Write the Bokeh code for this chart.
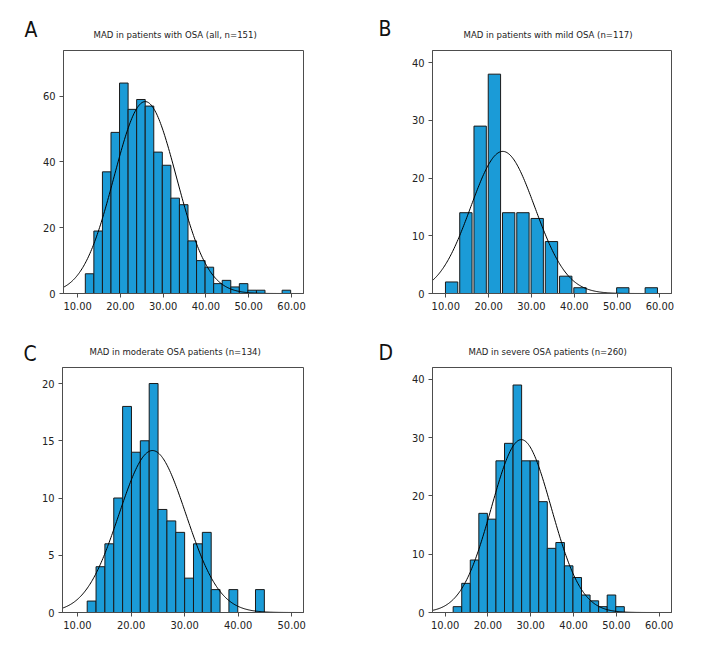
import numpy as np
from bokeh.plotting import figure
from bokeh.layouts import row, column
from bokeh.models import FixedTicker, PrintfTickFormatter, Range1d
from bokeh.embed import file_html
from bokeh.resources import INLINE

# ---------------- data ----------------
letters = ["A", "B", "C", "D"]
titles = [
    "MAD in patients with OSA (all, n=151)",
    "MAD in patients with mild OSA (n=117)",
    "MAD in moderate OSA patients (n=134)",
    "MAD in severe OSA patients (n=260)",
]

# A: all
a_bin_start, a_bin_width = 11.8, 2.0
a_counts = [6, 19, 37, 49, 64, 56, 59, 57, 43, 39, 29, 27, 16, 10, 8, 3, 4, 2, 3, 1, 1, 0, 0, 1]
a_mean, a_sd = 25.8, 7.3

# B: mild
b_bin_start, b_bin_width = 9.7, 3.33
b_counts = [2, 14, 29, 38, 14, 14, 13, 9, 3, 1, 0, 0, 1, 0, 1]
b_mean, b_sd = 23.3, 7.5

# C: moderate
c_bin_start, c_bin_width = 11.81, 1.654
c_counts = [1, 4, 6, 10, 18, 14, 15, 20, 9, 8, 7, 3, 6, 7, 2, 0, 2, 0, 0, 2]
c_mean, c_sd = 24.0, 6.25

# D: severe
d_bin_start, d_bin_width = 11.87, 2.0
d_counts = [1, 5, 9, 17, 16, 26, 29, 39, 26, 26, 19, 11, 12, 8, 6, 3, 2, 1, 3, 1]
d_mean, d_sd = 27.8, 7.0

x_ticks_ab = [10, 20, 30, 40, 50, 60]
x_ticks_c = [10, 20, 30, 40, 50]
y_ticks = [[0, 20, 40, 60], [0, 10, 20, 30, 40], [0, 5, 10, 15, 20], [0, 10, 20, 30, 40]]

# ---------------- style / layout ----------------
FONT = "DejaVu Sans Condensed"
BAR_FILL = "#1b9bd7"
EDGE = "#1a1a1a"
FRAME = "#4d4d4d"
LETTER_W = 38

panels = [
    dict(counts=a_counts, start=a_bin_start, width=a_bin_width, mean=a_mean, sd=a_sd,
         xr=(6.7, 62.8), yr=(0, 73.9), xt=x_ticks_ab, gap=0.0,
         w=322, h=330, bl=25, br=57, bt=50, bb=37, standoff=21, toff=30,
         letter_off=24, letter_standoff=17),
    dict(counts=b_counts, start=b_bin_start, width=b_bin_width, mean=b_mean, sd=b_sd,
         xr=(6.9, 62.7), yr=(0, 42.1), xt=x_ticks_ab, gap=0.45,
         w=314, h=330, bl=34, br=41, bt=50, bb=37, standoff=21, toff=31,
         letter_off=18, letter_standoff=19),
    dict(counts=c_counts, start=c_bin_start, width=c_bin_width, mean=c_mean, sd=c_sd,
         xr=(7.2, 52.2), yr=(0, 21.4), xt=x_ticks_c, gap=0.0,
         w=322, h=322, bl=24, br=57, bt=37, bb=40, standoff=22, toff=27,
         letter_off=23, letter_standoff=3),
    dict(counts=d_counts, start=d_bin_start, width=d_bin_width, mean=d_mean, sd=d_sd,
         xr=(7.04, 62.9), yr=(0, 42.0), xt=x_ticks_ab, gap=0.0,
         w=314, h=322, bl=34, br=41, bt=37, bb=40, standoff=22, toff=36,
         letter_off=18, letter_standoff=5),
]

cells = []
for i, pd_ in enumerate(panels):
    # narrow strip at the left of each panel that carries the panel letter as its title
    lf = figure(width=LETTER_W, height=pd_["h"], title=letters[i], output_backend="svg",
                toolbar_location=None, x_axis_type=None, y_axis_type=None,
                x_range=Range1d(0, 1), y_range=Range1d(0, 1),
                min_border=0, outline_line_color=None)
    lf.xgrid.visible = False
    lf.ygrid.visible = False
    lf.title.align = "left"
    lf.title.offset = pd_["letter_off"]
    lf.title.standoff = pd_["letter_standoff"]
    lf.title.text_font = FONT
    lf.title.text_font_size = "21px"
    lf.title.text_font_style = "normal"
    lf.title.text_color = "#111111"

    p = figure(width=pd_["w"], height=pd_["h"], output_backend="svg", toolbar_location=None,
               x_range=Range1d(*pd_["xr"]), y_range=Range1d(*pd_["yr"]),
               min_border_left=pd_["bl"], min_border_right=pd_["br"],
               min_border_top=pd_["bt"], min_border_bottom=pd_["bb"])
    p.xgrid.visible = False
    p.ygrid.visible = False
    p.outline_line_color = FRAME
    p.outline_line_width = 1
    p.background_fill_color = "white"
    p.border_fill_color = "white"

    counts = np.array(pd_["counts"], dtype=float)
    n = len(counts)
    left = pd_["start"] + np.arange(n) * pd_["width"]
    right = left + pd_["width"]
    g = pd_["gap"] / 2
    p.quad(left=left + g, right=right - g, top=counts, bottom=0,
           fill_color=BAR_FILL, line_color=EDGE, line_width=1)

    xs = np.linspace(pd_["xr"][0], pd_["xr"][1], 300)
    scale = counts.sum() * pd_["width"]
    ys = scale * np.exp(-0.5 * ((xs - pd_["mean"]) / pd_["sd"]) ** 2) / (pd_["sd"] * np.sqrt(2 * np.pi))
    p.line(xs, ys, line_color="black", line_width=1)

    for ax in (p.xaxis[0], p.yaxis[0]):
        ax.axis_line_color = FRAME
        ax.major_tick_line_color = FRAME
        ax.minor_tick_line_color = None
        ax.major_tick_out = 4
        ax.major_tick_in = 0
        ax.major_label_text_font = FONT
        ax.major_label_text_font_size = "11px"
        ax.major_label_text_color = "#222222"
        ax.major_label_standoff = 4
    p.xaxis[0].ticker = FixedTicker(ticks=pd_["xt"])
    p.xaxis[0].formatter = PrintfTickFormatter(format="%.2f")
    p.yaxis[0].ticker = FixedTicker(ticks=y_ticks[i])

    p.title.text = titles[i]
    p.title.align = "left"
    p.title.offset = pd_["toff"]
    p.title.text_font = FONT
    p.title.text_font_size = "9.5px"
    p.title.text_font_style = "normal"
    p.title.text_color = "#222222"
    p.title.standoff = pd_["standoff"]

    cells.append((lf, p))

layout = column(
    row(cells[0][0], cells[0][1], cells[1][0], cells[1][1]),
    row(cells[2][0], cells[2][1], cells[3][0], cells[3][1]),
)

open("out.html", "w").write(file_html(layout, INLINE))
